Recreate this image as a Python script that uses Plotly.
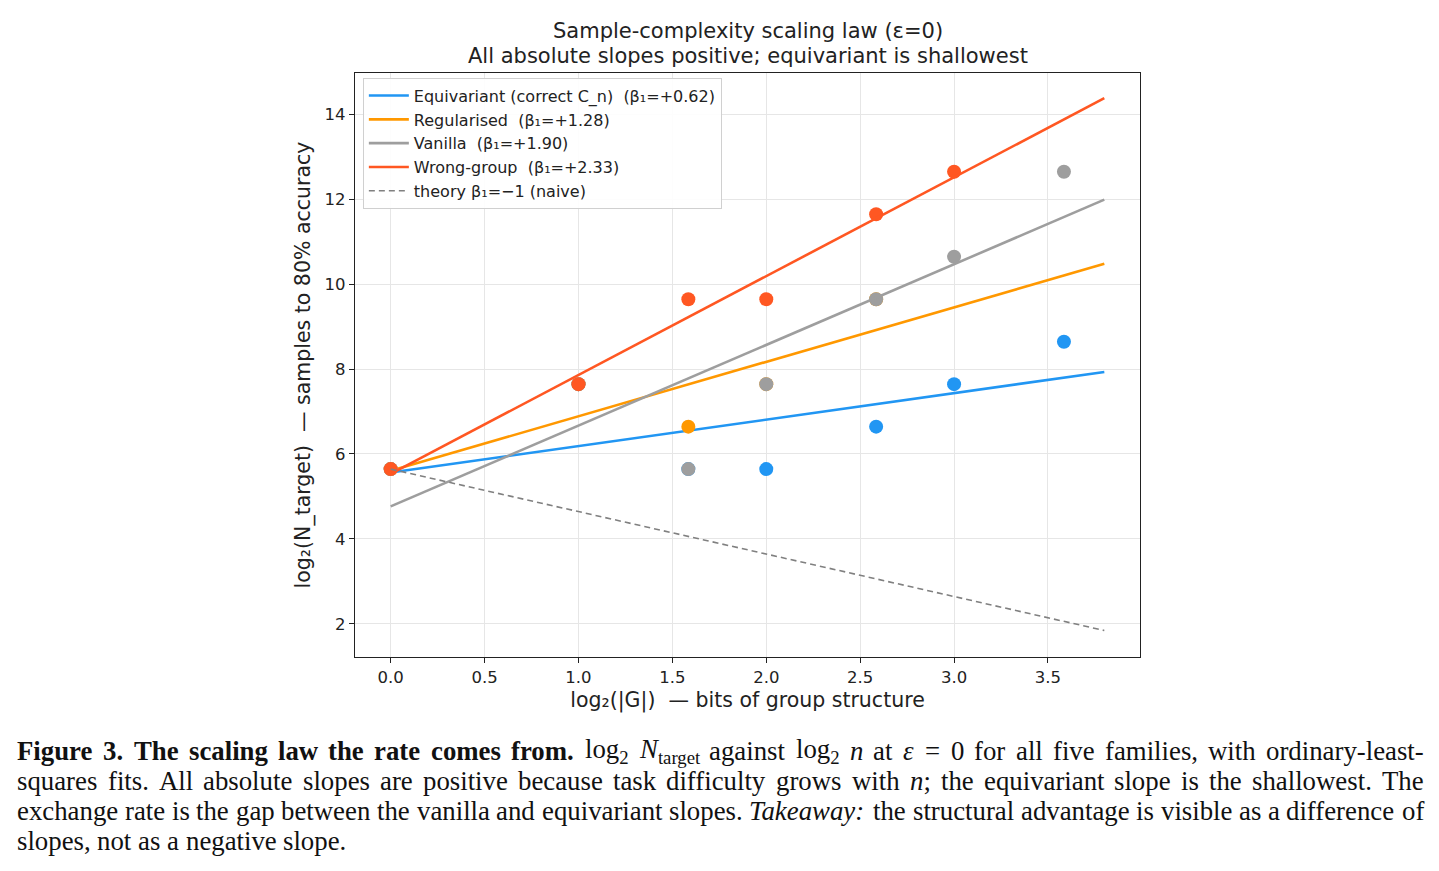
import plotly.graph_objects as go

# data (log2 group size, log2 samples to target)
x_all = [0.0, 1.0, 1.585, 2.0, 2.585, 3.0, 3.585]
equiv_y = [5.644, 7.644, 5.644, 5.644, 6.644, 7.644, 8.644]
reg_x = [0.0, 1.0, 1.585, 2.0, 2.585]
reg_y = [5.644, 7.644, 6.644, 7.644, 9.644]
van_y = [5.644, 7.644, 5.644, 7.644, 9.644, 10.644, 12.644]
wrong_x = [0.0, 1.0, 1.585, 2.0, 2.585, 3.0]
wrong_y = [5.644, 7.644, 9.644, 9.644, 11.644, 12.644]

names = ["Equivariant (correct C_n)", "Regularised", "Vanilla", "Wrong-group"]
colors = ["#2196F3", "#FF9800", "#9E9E9E", "#FF5722"]
series = [(x_all, equiv_y), (reg_x, reg_y), (x_all, van_y), (wrong_x, wrong_y)]
fit_x = [0.0, 3.8]

def ols(xs, ys):
    n = len(xs)
    mx = sum(xs) / n
    my = sum(ys) / n
    sxy = sum((a - mx) * (b - my) for a, b in zip(xs, ys))
    sxx = sum((a - mx) ** 2 for a in xs)
    b1 = sxy / sxx
    return b1, my - b1 * mx

fig = go.Figure()
for (xs, ys), name, col in zip(series, names, colors):
    b1, b0 = ols(xs, ys)
    fig.add_trace(go.Scatter(x=xs, y=ys, mode="markers", showlegend=False,
                             marker=dict(color=col, size=14, line=dict(width=0))))
    fig.add_trace(go.Scatter(x=fit_x, y=[b0 + b1 * v for v in fit_x], mode="lines",
                             name=f"{name}  (β₁=+{b1:.2f})",
                             line=dict(color=col, width=2.6)))

theory_start = equiv_y[0]
fig.add_trace(go.Scatter(x=fit_x, y=[theory_start - v for v in fit_x], mode="lines",
                         name="theory β₁=−1 (naive)",
                         line=dict(color="#808080", width=1.6, dash="6px,4px")))

axis_common = dict(showline=True, linecolor="#222", linewidth=1.3, mirror=True,
                   showgrid=True, gridcolor="#e6e6e6", gridwidth=1,
                   ticks="outside", ticklen=5, tickcolor="#222", zeroline=False,
                   tickfont=dict(size=16.5, color="#222"))

L, R, T, B = 355, 1140, 73, 657
W, H = 1439, 871

def px2paper(px, py):
    return (px - L) / (R - L), 1 - (py - T) / (B - T)

fig.update_layout(
    width=W, height=H,
    margin=dict(l=L, r=W - R, t=T, b=H - B),
    paper_bgcolor="white", plot_bgcolor="white",
    font=dict(family="DejaVu Sans", color="#222"),
    xaxis=dict(range=[-0.19, 3.99], tickvals=[0, 0.5, 1, 1.5, 2, 2.5, 3, 3.5],
               tickformat=".1f",
               title=dict(text="log₂(|G|)  — bits of group structure",
                          font=dict(size=20.5), standoff=6),
               **axis_common),
    yaxis=dict(range=[1.22, 14.97], tickvals=[2, 4, 6, 8, 10, 12, 14],
               title=dict(text="log₂(N_target)  — samples to 80% accuracy",
                          font=dict(size=20.5), standoff=8),
               **axis_common),
    legend=dict(x=0.01, y=0.992, xanchor="left", yanchor="top",
                bgcolor="rgba(255,255,255,0.9)", bordercolor="#d0d0d0", borderwidth=1,
                font=dict(size=16, color="#222"), tracegroupgap=0, itemwidth=40),
    showlegend=True,
)

def add_text(px, py, text, size, family="DejaVu Sans", anchor="center", color="#222"):
    x, y = px2paper(px, py)
    fig.add_annotation(x=x, y=y, xref="paper", yref="paper", text=text, showarrow=False,
                       xanchor=anchor, yanchor="middle",
                       font=dict(family=family, size=size, color=color))

add_text(748, 31, "Sample-complexity scaling law (ε=0)", 21)
add_text(748, 56, "All absolute slopes positive; equivariant is shallowest", 21)

# ---- caption, justified word by word using Times-compatible metrics ----
REG = {' ': 250, ',': 250, '-': 333, '.': 250, ';': 278, ':': 278, '=': 564,
       'A': 722, 'T': 611, 'F': 556, 'a': 444, 'b': 500, 'c': 444, 'd': 500, 'e': 444,
       'f': 333, 'g': 500, 'h': 500, 'i': 278, 'j': 278, 'k': 500, 'l': 278, 'm': 778,
       'n': 500, 'o': 500, 'p': 500, 'q': 500, 'r': 333, 's': 389, 't': 278, 'u': 500,
       'v': 500, 'w': 722, 'x': 500, 'y': 500, 'z': 444}
BOLD = {'F': 611, 'T': 667, 'a': 500, 'c': 444, 'e': 444, 'f': 333, 'g': 500, 'h': 556,
        'i': 278, 'l': 278, 'm': 833, 'n': 556, 'o': 500, 'r': 444, 's': 389, 't': 333,
        'u': 556, 'w': 722, '3': 500, '.': 250}
ITAL = {'T': 556, 'a': 500, 'k': 444, 'e': 444, 'w': 667, 'y': 444, ':': 333}

def wwidth(word, table):
    return sum(table.get(ch, REG.get(ch, 500)) for ch in word)

def tok(word, style="r", width=None):
    if width is None:
        table = {"r": REG, "b": BOLD, "i": ITAL}[style]
        width = wwidth(word, table)
    html = word
    if style == "b":
        html = f"<b>{word}</b>"
    elif style == "i":
        html = f"<i>{word}</i>"
    return (html, width)

def words(text, style="r"):
    return [tok(w, style) for w in text.split()]

sub = 0.7
LOG2 = ("log<sub>2</sub>", 1278 + 500 * sub)
NTGT = ("<i>N</i><sub>target</sub>", 667 + 2277 * sub)

caption_lines = [
    (words("Figure 3. The scaling law the rate comes from.", "b") +
     [LOG2, NTGT] + words("against") + [LOG2, ("<i>n</i>", 500), ("at", 722),
      ("<i>ε</i>", 440), ("=", 564), ("0", 500)] +
     words("for all five families, with ordinary-least-"), True),
    (words("squares fits. All absolute slopes are positive because task difficulty grows with") +
     [("<i>n</i>;", 778)] + words("the equivariant slope is the shallowest. The"), True),
    (words("exchange rate is the gap between the vanilla and equivariant slopes.") +
     [tok("Takeaway:", "i")] +
     words("the structural advantage is visible as a difference of"), True),
    (words("slopes, not as a negative slope."), False),
]

cap_size = 26.8
x_left, x_right = 15, 1422
for li, (toks, justify) in enumerate(caption_lines):
    widths = [w * cap_size / 1000 for _, w in toks]
    if justify:
        gap = (x_right - x_left - sum(widths)) / (len(toks) - 1)
    else:
        gap = 250 * cap_size / 1000
    xpos = x_left
    for (html, _), w in zip(toks, widths):
        add_text(xpos, 751 + 30 * li, html, cap_size, family="Liberation Serif",
                 anchor="left", color="#111")
        xpos += w + gap

fig.write_html("out.html")
